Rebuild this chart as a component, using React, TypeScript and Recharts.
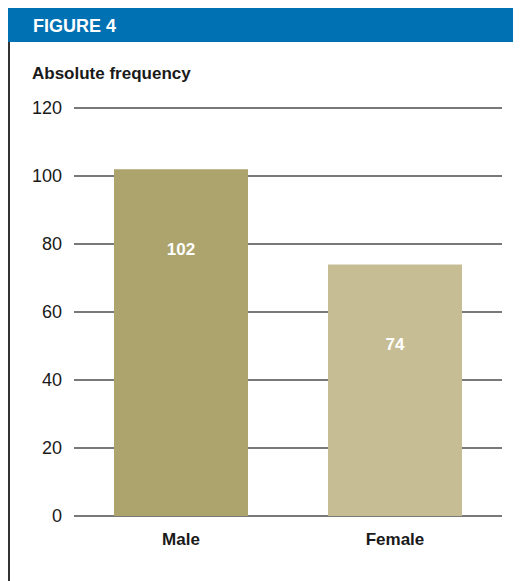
import React from "react";
import { BarChart, Bar, XAxis, YAxis, CartesianGrid, LabelList, Cell } from "recharts";

const categories = ["Male", "Female"];
const values = [102, 74];
const yTicks = [0, 20, 40, 60, 80, 100, 120];
const barColors = ["#ada36d", "#c7bd94"];

const data = categories.map((c, i) => ({ name: c, value: values[i] }));

const FONT = "'Liberation Sans', Arial, Helvetica, sans-serif";

const ValueLabel = (props: any) => {
  const { x, y, width, value } = props;
  return (
    <text
      x={x + width / 2}
      y={y + 86}
      textAnchor="middle"
      fill="#ffffff"
      fontFamily={FONT}
      fontWeight="bold"
      fontSize={17}
    >
      {value}
    </text>
  );
};

export default function App() {
  return (
    <div style={{ position: "relative", width: 513, height: 573, background: "#fff" }}>
      <div
        style={{
          position: "absolute",
          left: 0,
          top: -1,
          width: 513,
          height: 35,
          background: "#0071b3",
        }}
      />
      <div
        style={{
          position: "absolute",
          left: 0,
          top: 34,
          width: 1.5,
          height: 539,
          background: "#333",
        }}
      />
      <BarChart
        width={513}
        height={573}
        data={data}
        margin={{ top: 100, right: 19, left: 0, bottom: 25 }}
        style={{ position: "absolute", left: 0, top: 0 }}
      >
        <text x={25} y={24} fill="#ffffff" fontFamily={FONT} fontWeight="bold" fontSize={18}>
          FIGURE 4
        </text>
        <text x={24} y={71} fill="#1a1a1a" fontFamily={FONT} fontWeight="bold" fontSize={17}>
          Absolute frequency
        </text>
        <CartesianGrid vertical={false} stroke="#4d4d4d" strokeWidth={1.5} />
        <XAxis
          dataKey="name"
          axisLine={false}
          tickLine={false}
          tickSize={0}
          tickMargin={17}
          height={40}
          tick={{ fill: "#1a1a1a", fontFamily: FONT, fontWeight: "bold", fontSize: 17 }}
        />
        <YAxis
          width={66}
          domain={[0, 120]}
          ticks={yTicks}
          axisLine={false}
          tickLine={false}
          tickSize={0}
          tickMargin={12}
          tick={{ fill: "#1a1a1a", fontFamily: FONT, fontSize: 18 }}
        />
        <Bar dataKey="value" barSize={134} isAnimationActive={false}>
          {data.map((d, i) => (
            <Cell key={d.name} fill={barColors[i]} />
          ))}
          <LabelList dataKey="value" content={<ValueLabel />} />
        </Bar>
      </BarChart>
    </div>
  );
}
